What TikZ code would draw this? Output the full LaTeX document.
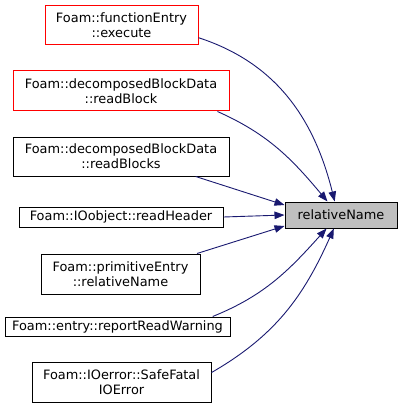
\documentclass[tikz,border=0pt]{standalone}
\usepackage{fontspec}
\setmainfont{DejaVu Sans}
\usetikzlibrary{arrows.meta}
\definecolor{edgeB}{HTML}{191970}
\definecolor{refR}{HTML}{FF0000}
\definecolor{targetF}{HTML}{BFBFBF}

\begin{document}
\begin{tikzpicture}[
    x=1pt,y=-1pt,
    >={Triangle[length=10pt,width=7.5pt]},
    font=\fontsize{12.9}{15}\selectfont,
    fn/.style={draw=black,fill=white,line width=1pt,inner sep=0pt,align=center},
    fnred/.style={fn,draw=refR},
    target/.style={fn,fill=targetF},
    call/.style={->,draw=edgeB,line width=0.9pt},
]
\useasboundingbox (0,0) rectangle (401,417);

% =====================================================================
%  callers
% =====================================================================
\node[fnred,minimum width=153pt,minimum height=39pt] (fe)  at (121.5,25.5)
     {Foam::functionEntry\\::execute};
\node[fnred,minimum width=216pt,minimum height=40pt] (rb)  at (121,91)
     {Foam::decomposedBlockData\\::readBlock};
\node[fn,minimum width=216pt,minimum height=39pt]    (rbs) at (121,156.5)
     {Foam::decomposedBlockData\\::readBlocks};
\node[fn,minimum width=204pt,minimum height=20pt]    (rh)  at (121,217)
     {Foam::IOobject::readHeader};
\node[fn,minimum width=159pt,minimum height=40pt]    (pe)  at (120.5,274)
     {Foam::primitiveEntry\\::relativeName};
\node[fn,minimum width=225pt,minimum height=19pt]    (rw)  at (117.5,326.5)
     {Foam::entry::reportReadWarning};
\node[fn,minimum width=179pt,minimum height=40pt]    (sf)  at (121.5,382)
     {Foam::IOerror::SafeFatal\\IOError};

% =====================================================================
%  called function
% =====================================================================
\node[target,minimum width=112pt,minimum height=26pt] (rel) at (341,215)
     {relativeName};

% =====================================================================
%  call edges
% =====================================================================
\draw[call] (fe.-9)   to[out=-18,in=104] (rel.115);
\draw[call] (rb.-12)  to[out=-24,in=130] (rel.135);
\draw[call] (rbs.-15) -- (rel.170);
\draw[call] (rh.east) -- (rel.west);
\draw[call] (pe.15)   -- (rel.191);
\draw[call] (rw.6)    to[out=22,in=228]  (rel.223);
\draw[call] (sf.6)    to[out=30,in=246]  (rel.242);

\end{tikzpicture}
\end{document}
